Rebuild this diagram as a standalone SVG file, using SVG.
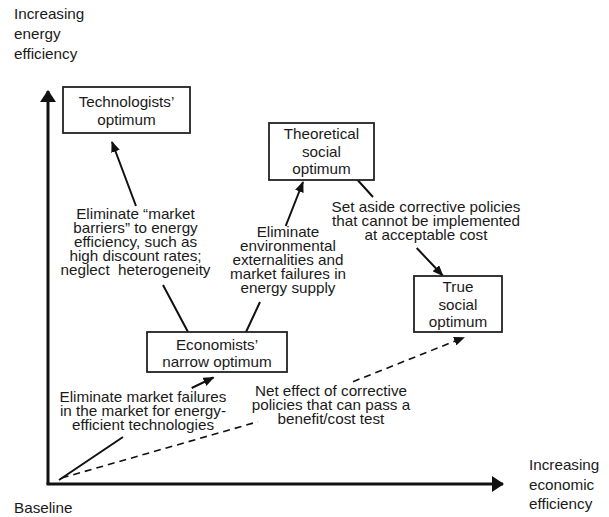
<svg xmlns="http://www.w3.org/2000/svg" width="609" height="517" viewBox="0 0 609 517">
<style>
text{font-family:"Liberation Sans",Arial,sans-serif;font-size:14px;fill:#1a1a1a}
.c{text-anchor:middle}
.box{fill:#fff;stroke:#222;stroke-width:1.8}
.axis{stroke:#111;stroke-width:3;fill:none}
.con{stroke:#111;stroke-width:2;fill:none}
.dash{stroke:#111;stroke-width:1.6;fill:none;stroke-dasharray:7 5}
</style>
<defs>
<marker id="ah" markerUnits="userSpaceOnUse" markerWidth="11" markerHeight="9" refX="10" refY="4.5" orient="auto"><path d="M0,0 L11,4.5 L0,9 z" fill="#111"/></marker>
<marker id="axh" markerUnits="userSpaceOnUse" markerWidth="12" markerHeight="16" refX="11" refY="8" orient="auto"><path d="M0,0 L12,8 L0,16 z" fill="#111"/></marker>
</defs>
<g id="axes">
<path class="axis" d="M48,484 L48,91" marker-end="url(#axh)"/>
<path class="axis" d="M46.5,484 L503,484" marker-end="url(#axh)"/>
<g transform="matrix(1.09 0 0 1 -1.26 0)">
<text x="14" y="19">Increasing</text>
<text x="14" y="39">energy</text>
<text x="14" y="59">efficiency</text>
<text x="14" y="513">Baseline</text>
</g>
<g transform="matrix(1.09 0 0 1 -47.61 0)">
<text x="529" y="470">Increasing</text>
<text x="529" y="490">economic</text>
<text x="529" y="509">efficiency</text>
</g>
</g>
<g id="connectors">
<path class="con" d="M188,332 L163,285 M136,206 L112,142" marker-end="url(#ah)"/>
<path class="con" d="M246,332 L260,302 M285.7,226 L303,182" marker-end="url(#ah)"/>
<path class="con" d="M356.7,179 L373,197 M416.7,248 L442.7,275.5" marker-end="url(#ah)"/>
<path class="con" d="M59,480 L123,437 M191.7,388 L213.5,377.5" marker-end="url(#ah)"/>
<path class="dash" d="M61.7,478 L258,421.7 M353,381.7 L464,337.5" marker-end="url(#ah)"/>
</g>
<g id="technologists">
<rect class="box" x="63" y="87" width="127" height="46"/>
<g transform="matrix(1.09 0 0 1 -11.385 0)">
<text class="c" x="126.5" y="107">Technologists’</text>
<text class="c" x="126.5" y="125">optimum</text>
</g>
</g>
<g id="theoretical">
<rect class="box" x="269" y="123" width="105" height="57"/>
<g transform="matrix(1.09 0 0 1 -28.935 0)">
<text class="c" x="321.5" y="139">Theoretical</text>
<text class="c" x="321.5" y="157">social</text>
<text class="c" x="321.5" y="174">optimum</text>
</g>
</g>
<g id="true">
<rect class="box" x="414" y="276" width="88" height="56"/>
<g transform="matrix(1.09 0 0 1 -41.22 0)">
<text class="c" x="458" y="292">True</text>
<text class="c" x="458" y="310">social</text>
<text class="c" x="458" y="327">optimum</text>
</g>
</g>
<g id="economists">
<rect class="box" x="147" y="332" width="140" height="40"/>
<g transform="matrix(1.09 0 0 1 -19.53 0)">
<text class="c" x="217" y="350">Economists’</text>
<text class="c" x="217" y="367">narrow optimum</text>
</g>
</g>
<g id="label-barriers" transform="matrix(1.09 0 0 1 -12.195 0)">
<text class="c" x="135.5" y="219">Eliminate “market</text>
<text class="c" x="135.5" y="233">barriers” to energy</text>
<text class="c" x="135.5" y="247">efficiency, such as</text>
<text class="c" x="135.5" y="261">high discount rates;</text>
<text class="c" x="135.5" y="275">neglect&#160; heterogeneity</text>
</g>
<g id="label-externalities" transform="matrix(1.09 0 0 1 -25.92 0)">
<text class="c" x="288" y="237">Eliminate</text>
<text class="c" x="288" y="251">environmental</text>
<text class="c" x="288" y="265">externalities and</text>
<text class="c" x="288" y="279">market failures in</text>
<text class="c" x="288" y="293">energy supply</text>
</g>
<g id="label-setaside" transform="matrix(1.09 0 0 1 -38.34 0)">
<text class="c" x="426" y="212">Set aside corrective policies</text>
<text class="c" x="426" y="226">that cannot be implemented</text>
<text class="c" x="426" y="240">at acceptable cost</text>
</g>
<g id="label-marketfailures" transform="matrix(1.09 0 0 1 -12.87 0)">
<text class="c" x="143" y="402">Eliminate market failures</text>
<text class="c" x="143" y="416">in the market for energy-</text>
<text class="c" x="143" y="430">efficient technologies</text>
</g>
<g id="label-neteffect" transform="matrix(1.09 0 0 1 -29.79 0)">
<text class="c" x="331" y="396">Net effect of corrective</text>
<text class="c" x="331" y="410">policies that can pass a</text>
<text class="c" x="331" y="424">benefit/cost test</text>
</g>
</svg>
